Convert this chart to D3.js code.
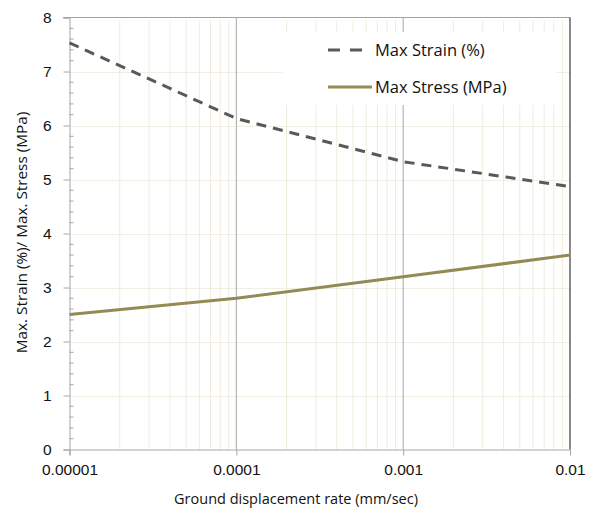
<!DOCTYPE html>
<html>
<head>
<meta charset="utf-8">
<script src="https://cdn.jsdelivr.net/npm/d3@7"></script>
<style>
  html, body { margin: 0; padding: 0; background: #fff; }
  svg { display: block; font-family: "Open Sans", "Noto Sans", sans-serif; }
</style>
</head>
<body>
<svg id="chart" width="599" height="511"></svg>
<script>
const rates = [0.00001, 0.0001, 0.001, 0.01];
const rateLabels = ["0.00001", "0.0001", "0.001", "0.01"];
const maxStrain = [7.53, 6.13, 5.33, 4.87];
const maxStress = [2.50, 2.80, 3.20, 3.60];
const yTicks = [0, 1, 2, 3, 4, 5, 6, 7, 8];
const seriesNames = ["Max Strain (%)", "Max Stress (MPa)"];
const xTitle = "Ground displacement rate (mm/sec)";
const yTitle = "Max. Strain (%)/ Max. Stress (MPa)";

const svg = d3.select("#chart");
const L = 69.5, R = 570, T = 17.5, B = 449.5;
const x = d3.scaleLog().domain([1e-5, 1e-2]).range([L, R]);
const y = d3.scaleLinear().domain([0, 8]).range([B, T]);
const txt = "#111";

// minor vertical gridlines
const minor = [];
for (let e = -5; e < -2; e++) for (let m = 2; m <= 9; m++) minor.push(m * Math.pow(10, e));
svg.append("g").selectAll("line").data(minor).join("line")
  .attr("x1", d => x(d)).attr("x2", d => x(d))
  .attr("y1", T + 3).attr("y2", B)
  .attr("stroke", "#efecdc").attr("stroke-width", 1);

// horizontal gridlines
svg.append("g").selectAll("line").data(yTicks.filter(d => d > 0 && d < 8)).join("line")
  .attr("x1", L).attr("x2", R)
  .attr("y1", d => Math.round(y(d)) + 0.5).attr("y2", d => Math.round(y(d)) + 0.5)
  .attr("stroke", "#f1efe4").attr("stroke-width", 1);

// major vertical gridlines
svg.append("g").selectAll("line").data(rates.slice(1, 3)).join("line")
  .attr("x1", d => x(d)).attr("x2", d => x(d))
  .attr("y1", T).attr("y2", B)
  .attr("stroke", "#a6a6a6").attr("stroke-width", 1);

// legend background (hides gridlines)
svg.append("rect").attr("x", 283).attr("y", 32).attr("width", 273).attr("height", 73).attr("fill", "#fff");

// top border
svg.append("line").attr("x1", 63).attr("x2", R).attr("y1", T).attr("y2", T)
  .attr("stroke", "#a0a0a0").attr("stroke-width", 1.2);
// right border
svg.append("line").attr("x1", R).attr("x2", R).attr("y1", T).attr("y2", B)
  .attr("stroke", "#3a3a3a").attr("stroke-width", 1.2);

// Y axis
const yAxis = d3.axisLeft(y).tickValues(yTicks).tickSize(6).tickPadding(6).tickFormat(d3.format("d"));
const gy = svg.append("g").attr("transform", `translate(${L},0)`).call(yAxis);
gy.select(".domain").attr("stroke", "#a6a6a6");
gy.selectAll(".tick line").attr("stroke", "#a6a6a6");
gy.selectAll(".tick text").attr("font-size", 15.5).attr("fill", txt).attr("x", -18);
// minor y ticks
const yMinor = d3.range(0, 8.001, 0.2).filter(v => Math.abs(v - Math.round(v)) > 1e-6);
svg.append("g").selectAll("line").data(yMinor).join("line")
  .attr("x1", L).attr("x2", L + 4)
  .attr("y1", d => y(d)).attr("y2", d => y(d))
  .attr("stroke", "#a6a6a6");

// X axis
const xAxis = d3.axisBottom(x).tickValues(rates).tickSize(6).tickPadding(8)
  .tickFormat((d, i) => rateLabels[i]);
const gx = svg.append("g").attr("transform", `translate(0,${B})`).call(xAxis);
gx.select(".domain").attr("stroke", "#a6a6a6");
gx.selectAll(".tick line").attr("stroke", "#a6a6a6");
gx.selectAll(".tick text").attr("font-size", 15.5).attr("fill", txt);

// titles
svg.append("text").attr("x", 296).attr("y", 504).attr("text-anchor", "middle")
  .attr("font-size", 14.5).attr("fill", txt).text(xTitle);
svg.append("text").attr("transform", `translate(27,${(T + B) / 2 - 1}) rotate(-90)`)
  .attr("text-anchor", "middle").attr("font-size", 15.3).attr("fill", txt).text(yTitle);

// lines
const line = d3.line().x(d => x(d[0])).y(d => y(d[1]));
svg.append("path").datum(rates.map((r, i) => [r, maxStrain[i]]))
  .attr("d", line).attr("fill", "none").attr("stroke", "#595959")
  .attr("stroke-width", 3).attr("stroke-dasharray", "10,7");
svg.append("path").datum(rates.map((r, i) => [r, maxStress[i]]))
  .attr("d", line).attr("fill", "none").attr("stroke", "#948a54")
  .attr("stroke-width", 3).attr("stroke-linejoin", "round");

// legend
const lg = svg.append("g");
lg.append("line").attr("x1", 328).attr("x2", 362).attr("y1", 50).attr("y2", 50)
  .attr("stroke", "#595959").attr("stroke-width", 3).attr("stroke-dasharray", "12,10");
lg.append("text").attr("x", 375).attr("y", 50).attr("dy", "0.35em")
  .attr("font-size", 16.5).attr("fill", txt).text(seriesNames[0]);
lg.append("line").attr("x1", 328).attr("x2", 372).attr("y1", 87).attr("y2", 87)
  .attr("stroke", "#948a54").attr("stroke-width", 3);
lg.append("text").attr("x", 375).attr("y", 87).attr("dy", "0.35em")
  .attr("font-size", 16.5).attr("fill", txt).text(seriesNames[1]);
</script>
</body>
</html>
